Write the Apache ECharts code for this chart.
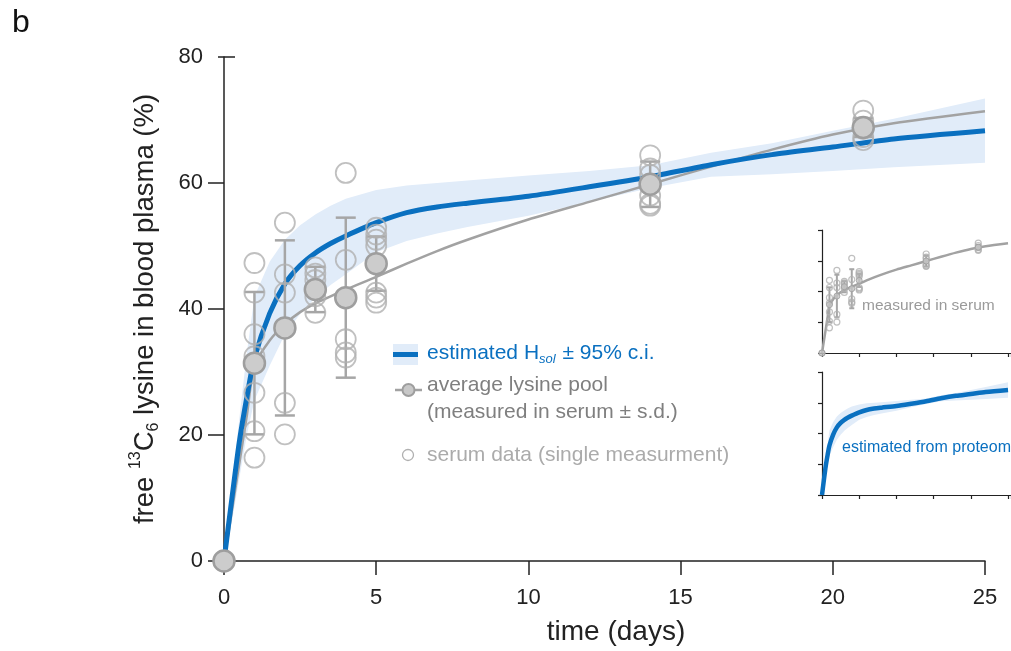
<!DOCTYPE html>
<html>
<head>
<meta charset="utf-8">
<script src="https://cdn.jsdelivr.net/npm/echarts@6/dist/echarts.min.js"></script>
<style>
  html, body { margin: 0; padding: 0; background: #fff; }
  #chart { width: 1011px; height: 651px; }
</style>
</head>
<body>
<div id="chart"></div>
<script>
// ---- fitted curves (time in days, label in %) ----
const curveDays     = [0, 0.25, 0.5, 0.75, 1, 1.5, 2, 2.5, 3, 3.5, 4, 5, 6, 7, 8, 10, 12, 14, 16, 18, 20, 22, 25];
const hsolEstimate  = [0, 9.6, 18.8, 26.0, 32.2, 39.3, 44.0, 46.9, 48.9, 50.4, 51.6, 53.7, 55.3, 56.2, 56.8, 57.9, 59.4, 61.0, 62.9, 64.5, 65.7, 67.0, 68.3];
const hsolUpper     = [0, 11.5, 22.5, 33.0, 42.0, 47.5, 51.0, 53.3, 55.0, 56.4, 57.5, 58.9, 59.6, 60.0, 60.4, 61.2, 61.9, 62.8, 64.8, 66.3, 68.3, 70.2, 73.4];
const hsolLower     = [0, 6.0, 13.0, 20.0, 25.5, 31.0, 36.0, 39.2, 41.8, 43.8, 45.5, 49.0, 50.8, 52.0, 53.0, 54.8, 57.0, 59.2, 61.0, 61.4, 61.9, 62.5, 63.2];
const serumFit      = [0, 7.7, 15.4, 23.1, 31.0, 35.0, 37.6, 39.5, 40.9, 42.0, 43.1, 45.1, 47.2, 49.2, 51.0, 54.2, 57.0, 59.8, 62.6, 65.3, 67.7, 69.5, 71.4];

// ---- serum measurements ----
const sampleDays   = [0, 1, 2, 3, 4, 5, 14, 21];
const serumMean    = [0, 31.4, 37.0, 43.1, 41.8, 47.2, 59.8, 68.8];
const serumSD      = [0, 11.3, 13.9, 3.6, 12.7, 4.3, 3.6, 1.5];
const singleValues = [
  [0],
  [47.3, 42.6, 36.0, 32.5, 26.7, 20.6, 16.4],
  [53.7, 45.5, 42.6, 25.1, 20.1],
  [46.6, 45.6, 44.6, 42.0, 39.4],
  [61.6, 47.8, 35.2, 33.1, 32.3],
  [52.9, 51.8, 51.0, 50.0, 42.6, 41.8, 41.0],
  [64.4, 62.3, 61.3, 58.0, 56.7, 56.4],
  [71.5, 69.9, 68.6, 67.3, 66.8]
];

// ---- axis ticks ----
const xTicks = [0, 5, 10, 15, 20, 25];
const yTicks = [0, 20, 40, 60, 80];

const FONT = "'Liberation Sans', Arial, Helvetica, sans-serif";
const BLUE = '#0a70c0';
const BAND = '#e1ecf9';
const GREY_LINE = '#a2a2a2';
const GREY_BAR = '#a6a6a6';
const GREY_RING = '#b0b0b0';
const AXIS = '#222';

const curvePairs = (vals) => curveDays.map((t, i) => [t, vals[i]]);
const bandData = curveDays.map((t, i) => [t, hsolLower[i], hsolUpper[i]]);
const barData = sampleDays.map((d, i) => [d, serumMean[i], serumSD[i]]);
const meanData = sampleDays.map((d, i) => [d, serumMean[i]]);
const singleData = [];
sampleDays.forEach((d, i) => singleValues[i].forEach(v => singleData.push([d, v])));

// confidence band: one polygon built from all rows through the axis scales
function bandRenderer(params, api) {
  if (params.dataIndex !== 0) return;
  const upper = [], lower = [];
  for (let i = 0; i < bandData.length; i++) {
    upper.push(api.coord([bandData[i][0], bandData[i][2]]));
    lower.push(api.coord([bandData[i][0], bandData[i][1]]));
  }
  return {
    type: 'polygon',
    shape: { points: upper.concat(lower.reverse()) },
    style: { fill: BAND, stroke: null }
  };
}

// mean ± s.d. whiskers
function errorBarRenderer(capHalf, width) {
  return function (params, api) {
    const x = api.value(0), m = api.value(1), s = api.value(2);
    if (!s) return;
    const hi = api.coord([x, m + s]);
    const lo = api.coord([x, m - s]);
    const st = { stroke: GREY_BAR, lineWidth: width };
    return {
      type: 'group',
      children: [
        { type: 'line', shape: { x1: hi[0], y1: hi[1], x2: lo[0], y2: lo[1] }, style: st },
        { type: 'line', shape: { x1: hi[0] - capHalf, y1: hi[1], x2: hi[0] + capHalf, y2: hi[1] }, style: st },
        { type: 'line', shape: { x1: lo[0] - capHalf, y1: lo[1], x2: lo[0] + capHalf, y2: lo[1] }, style: st }
      ]
    };
  };
}

const chart = echarts.init(document.getElementById('chart'), null, { renderer: 'canvas' });

const axisLineStyle = { color: AXIS, width: 1.5 };
const insetLineStyle = { color: AXIS, width: 1.2 };

chart.setOption({
  animation: false,
  backgroundColor: '#fff',
  textStyle: { fontFamily: FONT },
  grid: [
    { left: 224, top: 57, width: 761, height: 505 },
    { left: 822, top: 230, width: 189, height: 123 },
    { left: 822, top: 372, width: 189, height: 123 }
  ],
  xAxis: [
    {
      gridIndex: 0, type: 'value', min: xTicks[0], max: xTicks[xTicks.length - 1], interval: 5,
      axisLine: { lineStyle: axisLineStyle },
      axisTick: { length: 14, lineStyle: axisLineStyle },
      axisLabel: { fontSize: 22, color: AXIS, margin: 26, fontFamily: FONT },
      splitLine: { show: false },
      name: 'time (days)', nameLocation: 'middle', nameGap: 57,
      nameTextStyle: { fontSize: 28, color: AXIS, fontFamily: FONT, padding: [0, 0, 0, 23] }
    },
    {
      gridIndex: 1, type: 'value', min: 0, max: 25.4, interval: 5,
      axisLine: { lineStyle: insetLineStyle },
      axisTick: { length: 4, lineStyle: insetLineStyle },
      axisLabel: { show: false }, splitLine: { show: false }
    },
    {
      gridIndex: 2, type: 'value', min: 0, max: 25.4, interval: 5,
      axisLine: { lineStyle: insetLineStyle },
      axisTick: { length: 4, lineStyle: insetLineStyle },
      axisLabel: { show: false }, splitLine: { show: false }
    }
  ],
  yAxis: [
    {
      gridIndex: 0, type: 'value', position: 'left', min: yTicks[0], max: yTicks[yTicks.length - 1], interval: 20,
      axisLine: { show: true, lineStyle: axisLineStyle },
      axisTick: { show: true, length: 16, lineStyle: axisLineStyle, customValues: yTicks.slice(0, -1) },
      axisLabel: { fontSize: 22, color: AXIS, margin: 21, fontFamily: FONT, customValues: yTicks },
      splitLine: { show: false },
      name: '{n|free }{sup|13}{n|C}{sub|6}{n| lysine in blood plasma (%)}',
      nameLocation: 'middle', nameRotate: 90, nameGap: 62,
      nameTextStyle: {
        fontSize: 27.5, color: AXIS, fontFamily: FONT,
        rich: {
          n: { fontSize: 27.5, color: AXIS, fontFamily: FONT, lineHeight: 34 },
          sup: { fontSize: 16, color: AXIS, fontFamily: FONT, lineHeight: 20, verticalAlign: 'top' },
          sub: { fontSize: 16, color: AXIS, fontFamily: FONT, lineHeight: 18, verticalAlign: 'bottom' }
        }
      }
    },
    // top tick of the main y axis, short outer part
    {
      gridIndex: 0, type: 'value', position: 'left', offset: 0, min: 0, max: 80, interval: 20,
      axisLine: { show: false },
      axisTick: { show: true, length: 6, lineStyle: axisLineStyle, customValues: [80] },
      axisLabel: { show: false }, splitLine: { show: false }
    },
    // top tick of the main y axis, inner part
    {
      gridIndex: 0, type: 'value', position: 'left', offset: 0, min: 0, max: 80, interval: 20,
      axisLine: { show: false },
      axisTick: { show: true, inside: true, length: 11, lineStyle: axisLineStyle, customValues: [80] },
      axisLabel: { show: false }, splitLine: { show: false }
    },
    {
      gridIndex: 1, type: 'value', position: 'left', min: 0, max: 80, interval: 20,
      axisLine: { show: true, lineStyle: insetLineStyle },
      axisTick: { show: true, length: 4, lineStyle: insetLineStyle },
      axisLabel: { show: false }, splitLine: { show: false }
    },
    {
      gridIndex: 2, type: 'value', position: 'left', min: 0, max: 80, interval: 20,
      axisLine: { show: true, lineStyle: insetLineStyle },
      axisTick: { show: true, length: 4, lineStyle: insetLineStyle },
      axisLabel: { show: false }, splitLine: { show: false }
    }
  ],
  series: [
    // ---- main panel ----
    {
      type: 'custom', xAxisIndex: 0, yAxisIndex: 0, z: 1, silent: true,
      renderItem: bandRenderer, data: bandData
    },
    {
      type: 'line', xAxisIndex: 0, yAxisIndex: 0, z: 3, silent: true,
      data: curvePairs(serumFit), showSymbol: false, smooth: 0.25,
      lineStyle: { color: GREY_LINE, width: 2.5 }
    },
    {
      type: 'line', xAxisIndex: 0, yAxisIndex: 0, z: 4, silent: true,
      data: curvePairs(hsolEstimate), showSymbol: false, smooth: 0.25,
      lineStyle: { color: BLUE, width: 5 }
    },
    {
      type: 'custom', xAxisIndex: 0, yAxisIndex: 0, z: 5, silent: true,
      renderItem: errorBarRenderer(10, 2.5), data: barData
    },
    {
      type: 'scatter', xAxisIndex: 0, yAxisIndex: 0, z: 6, silent: true,
      data: singleData, symbol: 'circle', symbolSize: 20,
      itemStyle: { color: 'rgba(255,255,255,0)', borderColor: GREY_RING, borderWidth: 1.8 }
    },
    {
      type: 'scatter', xAxisIndex: 0, yAxisIndex: 0, z: 7, silent: true,
      data: meanData, symbol: 'circle', symbolSize: 21,
      itemStyle: { color: '#cccccc', borderColor: '#9e9e9e', borderWidth: 2.5, opacity: 1 }
    },
    // ---- inset: measured in serum ----
    {
      type: 'line', xAxisIndex: 1, yAxisIndex: 3, z: 3, silent: true,
      data: curvePairs(serumFit), showSymbol: false, smooth: 0.25,
      lineStyle: { color: GREY_LINE, width: 2.5 }
    },
    {
      type: 'custom', xAxisIndex: 1, yAxisIndex: 3, z: 5, silent: true,
      renderItem: errorBarRenderer(2.5, 2), data: barData
    },
    {
      type: 'scatter', xAxisIndex: 1, yAxisIndex: 3, z: 6, silent: true,
      data: singleData, symbol: 'circle', symbolSize: 6,
      itemStyle: { color: 'rgba(255,255,255,0)', borderColor: GREY_RING, borderWidth: 1.2 }
    },
    {
      type: 'scatter', xAxisIndex: 1, yAxisIndex: 3, z: 7, silent: true,
      data: meanData, symbol: 'circle', symbolSize: 6,
      itemStyle: { color: '#c4c4c4', borderColor: '#9e9e9e', borderWidth: 1 }
    },
    // ---- inset: estimated from proteome ----
    {
      type: 'custom', xAxisIndex: 2, yAxisIndex: 4, z: 1, silent: true,
      renderItem: bandRenderer, data: bandData
    },
    {
      type: 'line', xAxisIndex: 2, yAxisIndex: 4, z: 4, silent: true,
      data: curvePairs(hsolEstimate), showSymbol: false, smooth: 0.25,
      lineStyle: { color: BLUE, width: 4.5 }
    }
  ],
  graphic: [
    { type: 'text', x: 12, y: 7, style: { text: 'b', font: '32px ' + FONT, fill: '#111' } },

    // legend
    { type: 'rect', shape: { x: 393, y: 344, width: 25, height: 21 }, style: { fill: BAND } },
    { type: 'line', shape: { x1: 393, y1: 354.5, x2: 418, y2: 354.5 }, style: { stroke: BLUE, lineWidth: 5 } },
    {
      type: 'text', x: 427, y: 353,
      style: {
        text: '{a|estimated H}{s|sol}{a| ± 95% c.i.}',
        verticalAlign: 'middle',
        rich: {
          a: { fontSize: 21, fontFamily: FONT, fill: BLUE, lineHeight: 26 },
          s: { fontSize: 13, fontFamily: FONT, fontStyle: 'italic', fill: BLUE, lineHeight: 14, verticalAlign: 'bottom', padding: [0, 1, 0, 0] }
        }
      }
    },
    { type: 'line', shape: { x1: 395, y1: 390, x2: 422, y2: 390 }, style: { stroke: GREY_LINE, lineWidth: 2.5 } },
    { type: 'circle', shape: { cx: 408.5, cy: 390, r: 6 }, style: { fill: '#c8c8c8', stroke: '#9e9e9e', lineWidth: 2 } },
    { type: 'text', x: 427, y: 385, style: { text: 'average lysine pool', font: '21px ' + FONT, fill: '#7f7f7f', verticalAlign: 'middle' } },
    { type: 'text', x: 427, y: 412, style: { text: '(measured in serum ± s.d.)', font: '21px ' + FONT, fill: '#7f7f7f', verticalAlign: 'middle' } },
    { type: 'circle', shape: { cx: 408, cy: 455, r: 5.5 }, style: { fill: 'none', stroke: GREY_RING, lineWidth: 1.3 } },
    { type: 'text', x: 427, y: 455, style: { text: 'serum data (single measurment)', font: '21px ' + FONT, fill: '#ababab', verticalAlign: 'middle' } },

    // inset captions
    { type: 'text', x: 862, y: 306, style: { text: 'measured in serum', font: '15.5px ' + FONT, fill: '#9a9a9a', verticalAlign: 'middle' } },
    { type: 'text', x: 842, y: 448, style: { text: 'estimated from proteome', font: '16px ' + FONT, fill: BLUE, verticalAlign: 'middle' } }
  ]
});
</script>
</body>
</html>
